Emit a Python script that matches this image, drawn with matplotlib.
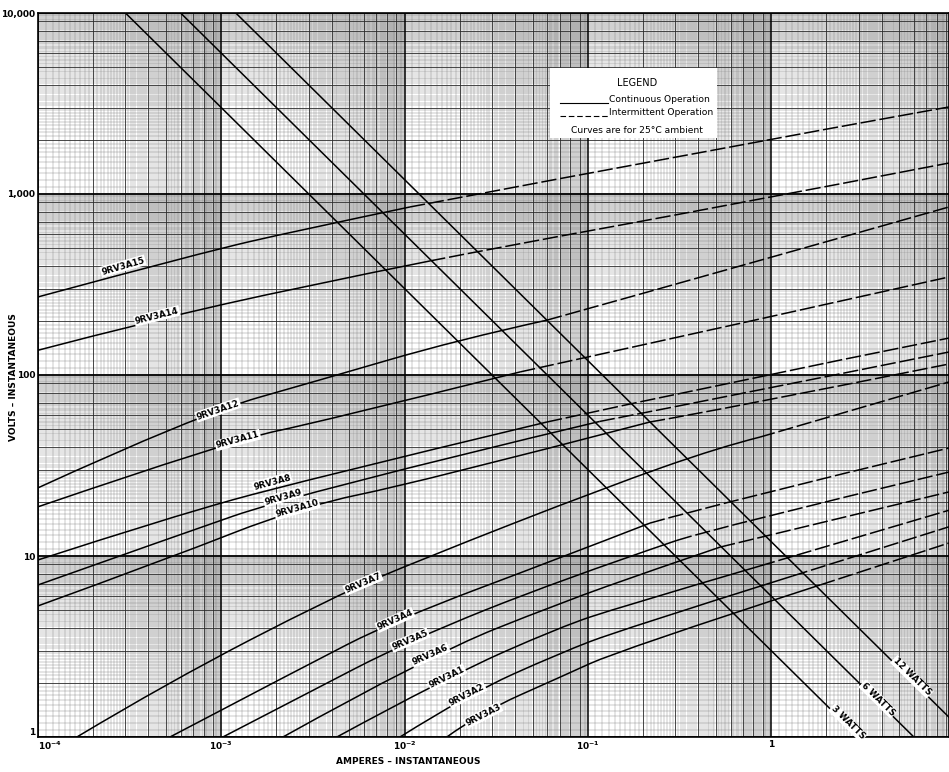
import matplotlib.pyplot as plt
import numpy as np
from matplotlib.patches import PathPatch, Rectangle
from matplotlib.path import Path

plt.rcParams['font.family'] = ['DejaVu Sans']
plt.rcParams['mathtext.default'] = 'bf'

X_MIN, X_MAX = 1e-4, 9.33
Y_MIN, Y_MAX = 1, 1e4

# curves: current (A), voltage (V),
# index of the point where the intermittent (dashed) part starts
A15_I = [1.0e-4, 7.66e-4, 2.68e-3, 1.07e-2, 0.526, 9.33]
A15_V = [270, 472, 632, 848, 1795, 3027]
A14_I = [1.0e-4, 4.08e-4, 2.68e-3, 1.38e-2, 3.31e-2, 0.526, 9.33]
A14_V = [137, 199, 306, 427, 509, 848, 1483]
A12_I = [1.0e-4, 7.36e-4, 3.45e-3, 1.93e-2, 5.98e-2, 0.526, 9.33]
A12_V = [23.8, 60.1, 93.8, 156, 201, 371, 848]
A11_I = [1.0e-4, 1.16e-3, 3.45e-3, 4.27e-2, 0.526, 9.33]
A11_V = [18.7, 43.7, 55.0, 104, 182, 348]
A8_I = [1.0e-4, 5.06e-4, 2.68e-3, 5.98e-2, 0.526, 9.33]
A8_V = [9.51, 16.2, 25.9, 55.0, 89.2, 160]
A9_I = [1.0e-4, 5.06e-4, 2.68e-3, 0.116, 0.526, 9.33]
A9_V = [6.92, 12.4, 22.3, 55.4, 74.6, 134]
A10_I = [1.0e-4, 5.06e-4, 2.68e-3, 1.21e-2, 0.218, 0.526, 9.33]
A10_V = [5.30, 9.62, 18.7, 25.6, 55.0, 64.1, 115]
A7_I = [1.63e-4, 5.06e-4, 4.06e-3, 1.21e-2, 0.127, 0.526, 0.869, 9.33]
A7_V = [1.0, 1.99, 5.93, 9.51, 24.1, 40.0, 45.4, 91.5]
A4_I = [5.25e-4, 2.68e-3, 8.87e-3, 7.05e-2, 0.218, 0.526, 9.33]
A4_V = [1.0, 2.38, 4.43, 9.75, 15.2, 19.6, 39.5]
A5_I = [1.02e-3, 2.68e-3, 1.07e-2, 7.05e-2, 0.306, 0.526, 9.33]
A5_V = [1.0, 1.66, 3.43, 7.36, 12.2, 14.5, 29.1]
A6_I = [2.17e-3, 1.38e-2, 7.05e-2, 0.226, 0.526, 9.33]
A6_V = [1.0, 2.84, 5.50, 8.37, 11.2, 22.6]
A1_I = [4.27e-3, 1.70e-2, 7.05e-2, 0.150, 0.869, 9.33]
A1_V = [1.0, 2.14, 4.05, 5.23, 8.81, 17.9]
A2_I = [9.44e-3, 2.19e-2, 7.05e-2, 0.150, 1.31, 9.33]
A2_V = [1.0, 1.71, 2.91, 3.90, 7.76, 14.5]
A3_I = [1.70e-2, 2.58e-2, 7.05e-2, 0.150, 1.85, 9.33]
A3_V = [1.0, 1.36, 2.14, 3.03, 6.92, 11.8]

CURVES = {
    "9RV3A15": (A15_I, A15_V, 3),
    "9RV3A14": (A14_I, A14_V, 3),
    "9RV3A12": (A12_I, A12_V, 4),
    "9RV3A11": (A11_I, A11_V, 3),
    "9RV3A8": (A8_I, A8_V, 3),
    "9RV3A9": (A9_I, A9_V, 3),
    "9RV3A10": (A10_I, A10_V, 4),
    "9RV3A7": (A7_I, A7_V, 6),
    "9RV3A4": (A4_I, A4_V, 4),
    "9RV3A5": (A5_I, A5_V, 4),
    "9RV3A6": (A6_I, A6_V, 4),
    "9RV3A1": (A1_I, A1_V, 4),
    "9RV3A2": (A2_I, A2_V, 4),
    "9RV3A3": (A3_I, A3_V, 4),
}

# label position (A, V) and angle on the page
LABELS = {
    "9RV3A15": (2.91e-4, 400, 16),
    "9RV3A14": (4.46e-4, 212, 14),
    "9RV3A12": (9.6e-4, 64.1, 19),
    "9RV3A11": (1.23e-3, 43.7, 15),
    "9RV3A8": (1.89e-3, 25.6, 15),
    "9RV3A9": (2.17e-3, 21.2, 16),
    "9RV3A10": (2.59e-3, 18.2, 16),
    "9RV3A7": (5.93e-3, 7.09, 23),
    "9RV3A4": (8.87e-3, 4.43, 24),
    "9RV3A5": (1.07e-2, 3.43, 23),
    "9RV3A6": (1.38e-2, 2.84, 24),
    "9RV3A1": (1.70e-2, 2.14, 26),
    "9RV3A2": (2.19e-2, 1.71, 27),
    "9RV3A3": (2.68e-2, 1.32, 27),
}

# constant power lines: end points (A, V)
WATT_NAMES = ["3 WATTS", "6 WATTS", "12 WATTS"]
WATT_I = [[3e-4, 3.0], [6e-4, 6.0], [1.2e-3, 9.33]]
WATT_V = [[1e4, 1.0], [1e4, 1.0], [1e4, 1.286]]
WATT_LABEL_I = [2.62, 3.83, 5.86]
WATT_LABEL_V = [1.2, 1.62, 2.15]


def paper_lines(lo, hi):
    fine, heavy, decade = [], [], []
    for e in range(lo, hi):
        base = 10.0 ** e
        decade.append(base)
        for k in range(11, 100):
            (heavy if k % 10 == 0 else fine).append(base * k / 10)
    decade.append(10.0 ** hi)
    return fine, heavy, decade


def smooth_path(cur, volt):
    # quadratic bezier through the read points (midpoints taken on the log scale)
    pts = list(zip(cur, volt))
    if len(pts) < 3:
        return Path(pts)
    verts, codes = [pts[0]], [Path.MOVETO]
    for i in range(1, len(pts) - 1):
        if i == len(pts) - 2:
            end = pts[-1]
        else:
            end = (np.sqrt(pts[i][0] * pts[i + 1][0]), np.sqrt(pts[i][1] * pts[i + 1][1]))
        verts += [pts[i], end]
        codes += [Path.CURVE3, Path.CURVE3]
    return Path(verts, codes)


fig = plt.figure(figsize=(9.49, 7.72), dpi=100)
ax = fig.add_axes([38 / 949, 35 / 772, 911 / 949, 724 / 772])
ax.set_xscale("log")
ax.set_yscale("log")
ax.set_xlim(X_MIN, X_MAX)
ax.set_ylim(Y_MIN, Y_MAX)

# log graph paper
fx, hx, dx = paper_lines(-4, 1)
fy, hy, dy = paper_lines(0, 4)
ax.vlines(fx, Y_MIN, Y_MAX, color="#6e6e6e", lw=0.25, zorder=0)
ax.hlines(fy, X_MIN, X_MAX, color="#6e6e6e", lw=0.25, zorder=0)
ax.vlines(hx, Y_MIN, Y_MAX, color="#2a2a2a", lw=0.6, zorder=0)
ax.hlines(hy, X_MIN, X_MAX, color="#2a2a2a", lw=0.6, zorder=0)
ax.vlines(dx, Y_MIN, Y_MAX, color="black", lw=1.1, zorder=0)
ax.hlines(dy, X_MIN, X_MAX, color="black", lw=1.3, zorder=0)

for name, (cur, volt, k) in CURVES.items():
    ax.add_patch(PathPatch(smooth_path(cur[:k + 1], volt[:k + 1]), fill=False,
                           ec="black", lw=1.1, zorder=3))
    ax.add_patch(PathPatch(smooth_path(cur[k:], volt[k:]), fill=False, ec="black",
                           lw=1.1, ls=(0, (10, 2.5)), zorder=3))
    lx, ly, rot = LABELS[name]
    ax.text(lx, ly, name, rotation=rot, ha="center", va="center",
            fontsize=6.3, fontweight="bold", zorder=4, rotation_mode="anchor",
            bbox=dict(fc="white", ec="none", pad=0.6))

for name, wi, wv, li, lv in zip(WATT_NAMES, WATT_I, WATT_V, WATT_LABEL_I, WATT_LABEL_V):
    ax.plot(wi, wv, color="black", lw=1.1, zorder=3)
    ax.text(li, lv, name, rotation=-44.6, ha="center", va="center",
            fontsize=6.3, fontweight="bold", zorder=4, rotation_mode="anchor",
            bbox=dict(fc="white", ec="none", pad=0.6))

# legend box
ax.add_patch(Rectangle((0.562, 0.827), 0.183, 0.097, transform=ax.transAxes,
                       fc="white", ec="none", zorder=5))
ax.text(0.6575, 0.903, "LEGEND", transform=ax.transAxes, ha="center", va="center",
        fontsize=7, zorder=6)
ax.plot([0.573, 0.626], [0.876, 0.876], transform=ax.transAxes, color="black",
        lw=0.8, zorder=6)
ax.text(0.627, 0.877, "Continuous Operation", transform=ax.transAxes, ha="left",
        va="baseline", fontsize=6.6, zorder=6)
ax.plot([0.573, 0.626], [0.858, 0.858], transform=ax.transAxes, color="black",
        lw=0.8, dashes=(5, 2.5), zorder=6)
ax.text(0.627, 0.859, "Intermittent Operation", transform=ax.transAxes, ha="left",
        va="baseline", fontsize=6.6, zorder=6)
ax.text(0.6575, 0.838, "Curves are for 25°C ambient", transform=ax.transAxes,
        ha="center", va="center", fontsize=6.6, zorder=6)

ax.set_xticks([1e-4, 1e-3, 1e-2, 1e-1, 1])
ax.set_xticklabels([r"$10^{-4}$", r"$10^{-3}$", r"$10^{-2}$", r"$10^{-1}$", "1"])
ax.set_yticks([1, 10, 100, 1000, 10000])
ax.set_yticklabels(["1", "10", "100", "1,000", "10,000"])
ax.minorticks_off()
ax.tick_params(length=0, pad=2, labelsize=6.5)
for t in ax.get_yticklabels() + ax.get_xticklabels():
    t.set_fontweight("bold")
ax.get_xticklabels()[0].set_horizontalalignment("left")
ax.get_yticklabels()[0].set_verticalalignment("bottom")
for s in ax.spines.values():
    s.set_linewidth(1.2)

fig.text(14 / 949, 1 - 377 / 772, "VOLTS – INSTANTANEOUS", rotation=90,
         ha="center", va="center", fontsize=6.5, fontweight="bold")
fig.text(408 / 949, 1 - 762 / 772, "AMPERES – INSTANTANEOUS",
         ha="center", va="center", fontsize=6.5, fontweight="bold")

fig.savefig("out.png", dpi=100, facecolor="white")
